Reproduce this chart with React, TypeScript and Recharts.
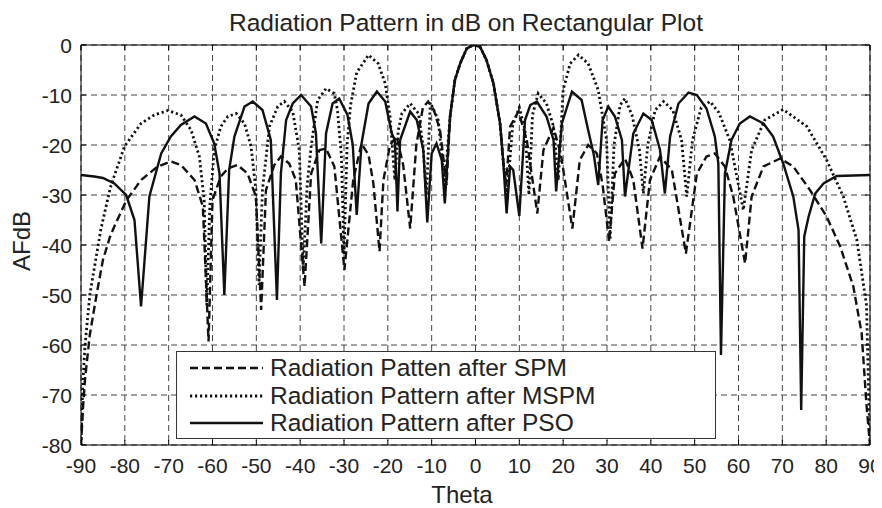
import { LineChart, Line, XAxis, YAxis, CartesianGrid, Legend, ReferenceLine } from "recharts";

const FONT = '"Liberation Sans", Arial, Helvetica, sans-serif';

// theta (deg) / AF (dB)
const spmTheta = [
  -90, -89.5, -89.1, -88, -86.4, -85, -83.4, -82.4, -79.6, -76.3, -72.5, -69.5, -67.2, -64.1, -62.2, -60.9,
  -60, -58.1, -56.5, -54.3, -52, -50.1, -48.9, -47.8, -45.9, -44.4, -42.5, -41, -39, -37.5, -35.6, -34.1,
  -32.2, -29.9, -27.9, -26, -24.4, -23.3, -21.9, -21, -19.5, -18, -16.5, -14.9, -13.5, -12, -10.8, -9.5,
  -8.1, -7, -6.6, -5.8, -4.7, -3.5, -2, -0.5, 1, 2.5, 4.1, 5.6, 6.3, 7, 7.9, 9.8, 11.7, 14.1, 15.5, 17.8,
  19.5, 22.1, 23.8, 25.7, 27.7, 29, 30.5, 31.8, 34.1, 36, 38.1, 39.8, 42.1, 44.8, 48, 50.5, 52.7, 54.6,
  56.9, 58.8, 61.5, 63, 65.7, 69.5, 72.5, 76.3, 80.1, 83.2, 86.2, 88.1, 89.2, 90,
];
const spmDb = [
  -80, -72, -67, -58, -49.7, -43, -38.4, -36.3, -31, -27, -24.3, -23.3, -24, -27, -32.3, -59.3,
  -31, -26.3, -24.7, -24, -25.7, -30.3, -53, -29, -24, -22.3, -23.7, -27, -48.3, -25.7, -21, -20.7,
  -24.3, -45, -27, -19.7, -22, -27.7, -41.3, -27, -20, -18.3, -24, -36.7, -20, -12.5, -11.3, -13,
  -17, -25, -28, -14.3, -7, -3.7, -0.7, 0, -0.3, -3, -7.7, -15.7, -23, -28, -16.3, -13.3, -19, -33.7, -21, -16.5,
  -22, -36.7, -23, -20, -21.7, -28, -39.3, -25.7, -22.7, -27, -40.7, -27, -22.3, -25, -41.7, -25.7, -22.3, -21.7,
  -24.3, -30.3, -43.7, -30.3, -24.3, -22.7, -24.3, -29, -34.3, -40.3, -48.3, -57.7, -72, -80,
];

const mspmTheta = [
  -90, -89.6, -89.1, -88, -85.5, -83.3, -80.1, -76.3, -73.3, -70.2, -67.2, -64.9, -63, -61.9, -61.3, -60.6,
  -59.6, -58.1, -56.5, -54.6, -52.7, -51.2, -50.1, -49.4, -48.6, -47, -45.1, -43.6, -41.7, -40.2, -39.3, -38.4,
  -37.5, -36, -34.1, -32.2, -31.5, -30.6, -30, -29.3, -28.5, -27.1, -24.4, -22.2, -20.6, -19.5, -18.4, -17.6,
  -16.8, -14.9, -13, -12, -11.2, -10.3, -8.5, -7, -5.8, -4.7, -3.5, -2, -0.5, 1, 2.5, 4.1, 5.6, 6.3,
  7.2, 8.5, 10, 11.3, 12.2, 13, 14.3, 16.2, 17.8, 18.9, 20, 21.6, 23.5, 25.7, 28, 29.9, 30.7, 31.6,
  33, 34.1, 35.7, 37.4, 38.3, 39.3, 41, 42.9, 45, 47, 48.2, 49.5, 51.5, 53.5, 55.5, 58, 61.1, 63,
  66, 70.2, 75.6, 80.1, 83.9, 87, 89.2, 89.6, 90,
];
const mspmDb = [
  -80, -68, -60.3, -50, -37, -28.5, -20.3, -15.7, -14, -13.1, -14, -17, -22.3, -31, -52, -32,
  -21, -16.3, -14.3, -13.7, -15.7, -20.3, -29, -48, -29, -16.3, -12.3, -11.3, -13.3, -21, -45, -28,
  -20.3, -11, -8.7, -9.7, -13, -22, -42, -20, -12, -5.5, -2, -3.7, -7.7, -14.3, -27, -17,
  -13.7, -11.7, -13.7, -20, -30, -11.5, -15, -28, -14.3, -7, -3.7, -0.7, 0, -0.3, -3, -7.7, -15.7, -23,
  -30, -16, -12.5, -17, -30, -14, -9.7, -11.7, -16.3, -27, -9, -3.7, -2, -3.7, -9, -19, -39, -20,
  -12, -10.7, -14, -21, -29.7, -20, -13, -11.3, -13, -19, -30.3, -19, -12.5, -11.3, -13.5, -19, -33, -21,
  -15, -12.9, -16.3, -23, -30.3, -39, -52, -66, -80,
];

const psoTheta = [
  -90, -87, -85, -82.4, -79.7, -77.8, -76.3, -74.4, -71.7, -69.5, -67.2, -64.1, -61.5, -59.6, -58.4, -57.3,
  -56.2, -55, -52.7, -50.8, -48.6, -46.7, -45.3, -44.4, -43.2, -41.7, -39.8, -37.5, -36.4, -35.2, -34.1, -32.6,
  -31.1, -29.2, -28, -27.1, -26, -24.4, -22.5, -20.6, -19.1, -18.4, -17.8, -17.2, -14.9, -13.4, -11.9, -11,
  -10, -8.9, -7.7, -7, -5.8, -4.7, -3.5, -2, -0.5, 1, 2.5, 4.1, 5.6, 6.3, 7.1, 7.9, 8.6, 10,
  11.3, 12.5, 14, 16.2, 17.8, 18.4, 19.7, 22, 24.2, 25.7, 27, 28, 29, 30.3, 31.8, 33.4, 34.1, 36,
  38.3, 40.2, 42.1, 43.2, 44.4, 46.3, 48.6, 50.5, 52.7, 54.6, 55.4, 56, 56.9, 58.4, 60.3, 62.6, 65.7, 67.9,
  70.2, 72.5, 73.7, 74.3, 75, 76, 77.5, 79.4, 82.4, 90,
];
const psoDb = [
  -26, -26.3, -26.6, -27.7, -30, -35, -52.3, -30.3, -21.7, -18.3, -16, -14.3, -15.7, -19.7, -25.7, -50,
  -25, -18.3, -12.3, -11.3, -13, -19, -51, -25.7, -15, -11.7, -10, -12.3, -17.7, -39.7, -17.7, -11.7,
  -10.7, -14, -20, -34, -19.7, -11.7, -9.3, -11.3, -17.7, -19, -33.3, -19, -13.3, -15, -21, -35.5,
  -21.7, -19.7, -23, -31.7, -14.3, -7, -3.7, -0.7, 0, -0.3, -3, -7.7, -15.7, -23, -33.7, -24.3, -25, -34.2,
  -15, -12, -11.3, -14.3, -19, -29.3, -15.7, -9.3, -11, -17, -22, -28, -15, -12.3, -14.3, -19, -30.3, -17.7,
  -13.7, -15, -21, -29.7, -18.3, -11.7, -9.5, -10, -12.7, -18.3, -23.7, -62, -25.7, -19, -15.7, -14.3, -15.7, -18.3,
  -23.7, -30.3, -37, -73, -38.3, -34.3, -29.7, -27.7, -26.2, -26,
];

const thetaTicks = [-90, -80, -70, -60, -50, -40, -30, -20, -10, 0, 10, 20, 30, 40, 50, 60, 70, 80, 90];
const dbTicks = [-80, -70, -60, -50, -40, -30, -20, -10, 0];

const toPoints = (theta: number[], db: number[]) => theta.map((t, i) => ({ theta: t, db: db[i] }));

const SERIES = [
  { key: "spm", name: "Radiation Patten after SPM", data: toPoints(spmTheta, spmDb), dash: "8 4", width: 2.4 },
  { key: "mspm", name: "Radiation Pattern after MSPM", data: toPoints(mspmTheta, mspmDb), dash: "2.2 2.8", width: 2.8 },
  { key: "pso", name: "Radiation Pattern after PSO", data: toPoints(psoTheta, psoDb), dash: undefined, width: 2.4 },
];

const PLOT_W = 789;
const PLOT_H = 400;

const XTick = ({ x, y, payload }: any) => (
  <g>
    <line x1={x} x2={x} y1={y} y2={y - 5} stroke="#000" />
    <line x1={x} x2={x} y1={y - PLOT_H} y2={y - PLOT_H + 5} stroke="#000" />
    <text x={x} y={y + 28} textAnchor="middle" fontSize={21} fontFamily={FONT} fill="#222">
      {payload.value}
    </text>
  </g>
);

const YTick = ({ x, y, payload }: any) => (
  <g>
    <line x1={x} x2={x + 5} y1={y} y2={y} stroke="#000" />
    <line x1={x + PLOT_W - 5} x2={x + PLOT_W} y1={y} y2={y} stroke="#000" />
    <text x={x - 9} y={y + 7.5} textAnchor="end" fontSize={21} fontFamily={FONT} fill="#222">
      {payload.value}
    </text>
  </g>
);

const renderLegend = () => (
  <div
    style={{
      width: 540, height: 88, boxSizing: "border-box", border: "1px solid #333",
      background: "#fff", fontFamily: FONT, fontSize: 24.5, color: "#222", position: "relative",
    }}
  >
    {SERIES.map((s, i) => (
      <div
        key={s.key}
        style={{ position: "absolute", left: 13, top: 2 + i * 27.5, height: 28, display: "flex", alignItems: "center", whiteSpace: "nowrap" }}
      >
        <svg width={73} height={6} style={{ display: "block" }}>
          <line x1={0} y1={3} x2={73} y2={3} stroke="#111" strokeWidth={s.width} strokeDasharray={s.dash} />
        </svg>
        <span style={{ marginLeft: 7, lineHeight: "28px" }}>{s.name}</span>
      </div>
    ))}
  </div>
);

export default function App() {
  return (
    <div style={{ position: "relative", width: 874, height: 500 }}>
      <style>{"html { overflow: hidden; } body { margin-bottom: 0; }"}</style>
      <LineChart width={874} height={492} margin={{ top: 37, right: 12, bottom: 0, left: 0 }}>
        <CartesianGrid stroke="#444" strokeDasharray="6 4" />
        <XAxis
          dataKey="theta"
          type="number"
          domain={[-90, 90]}
          ticks={thetaTicks}
          interval={0}
          height={55}
          tickSize={0}
          tickMargin={0}
          tickLine={false}
          axisLine={{ stroke: "#000" }}
          tick={XTick}
          allowDataOverflow
        />
        <YAxis
          dataKey="db"
          type="number"
          domain={[-80, 0]}
          ticks={dbTicks}
          interval={0}
          width={73}
          tickSize={0}
          tickMargin={0}
          tickLine={false}
          axisLine={{ stroke: "#000" }}
          tick={YTick}
          allowDataOverflow
        />
        <ReferenceLine y={0} stroke="#000" />
        <ReferenceLine x={90} stroke="#000" />
        {SERIES.map((s) => (
          <Line
            key={s.key}
            data={s.data}
            dataKey="db"
            name={s.name}
            type="linear"
            stroke="#111"
            strokeWidth={s.width}
            strokeDasharray={s.dash}
            dot={false}
            activeDot={false}
            isAnimationActive={false}
          />
        ))}
        <Legend
          layout="horizontal"
          verticalAlign="middle"
          align="center"
          wrapperStyle={{ left: 168, top: 343, width: 540, height: 88 }}
          content={renderLegend}
        />
      </LineChart>
      <svg
        width={874}
        height={500}
        style={{ position: "absolute", left: 0, top: 0, pointerEvents: "none", overflow: "visible" }}
      >
        <text x={458} y={23} textAnchor="middle" fontSize={24.5} fontFamily={FONT} fill="#222">
          Radiation Pattern in dB on Rectangular Plot
        </text>
        <text transform="translate(22, 233) rotate(-90)" textAnchor="middle" fontSize={24} fontFamily={FONT} fill="#222">
          AFdB
        </text>
        <text x={454} y={495} textAnchor="middle" fontSize={24} fontFamily={FONT} fill="#222">
          Theta
        </text>
      </svg>
    </div>
  );
}
